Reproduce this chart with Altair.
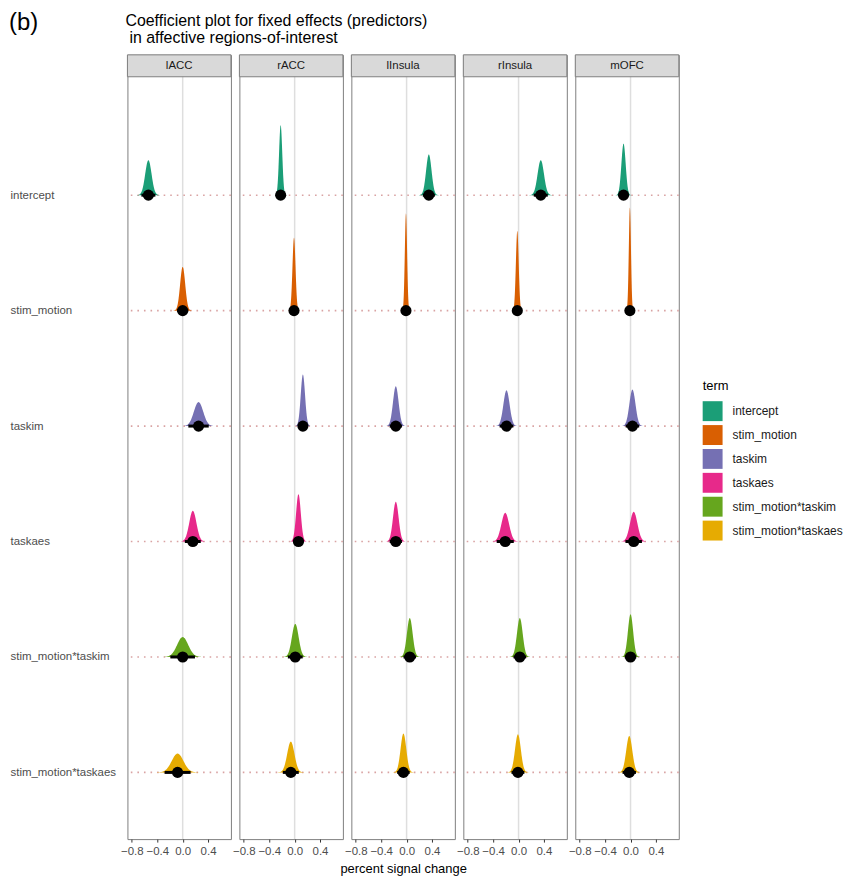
import altair as alt
import pandas as pd

# ---------------- data ----------------
rois = ["lACC", "rACC", "lInsula", "rInsula", "mOFC"]
terms = ["intercept", "stim_motion", "taskim", "taskaes",
         "stim_motion*taskim", "stim_motion*taskaes"]
term_colors = ["#1b9e77", "#d95f02", "#7570b3", "#e7298a", "#66a61e", "#e6ab02"]

# posterior means (one value per ROI: lACC, rACC, lInsula, rInsula, mOFC)
mean_intercept = [-0.54, -0.22, 0.35, 0.35, -0.11]
mean_stim_motion = [0.00, -0.01, -0.01, -0.02, -0.01]
mean_taskim = [0.25, 0.13, -0.17, -0.19, 0.03]
mean_taskaes = [0.16, 0.06, -0.17, -0.21, 0.05]
mean_sm_taskim = [0.00, 0.01, 0.05, 0.02, 0.00]
mean_sm_taskaes = [-0.08, -0.06, -0.05, -0.01, -0.02]

# posterior standard deviations
sd_intercept = [0.050, 0.025, 0.043, 0.050, 0.034]
sd_stim_motion = [0.040, 0.024, 0.018, 0.022, 0.017]
sd_taskim = [0.073, 0.034, 0.044, 0.049, 0.048]
sd_taskaes = [0.057, 0.037, 0.044, 0.061, 0.059]
sd_sm_taskim = [0.088, 0.053, 0.045, 0.045, 0.041]
sd_sm_taskaes = [0.093, 0.057, 0.045, 0.046, 0.048]

x_ticks = [-0.8, -0.4, 0.0, 0.4]
panel_tag = "(b)"
title_line1 = "Coefficient plot for fixed effects (predictors)"
title_line2 = " in affective regions-of-interest"
x_title = "percent signal change"
legend_title = "term"

means = [mean_intercept, mean_stim_motion, mean_taskim, mean_taskaes,
         mean_sm_taskim, mean_sm_taskaes]
sds = [sd_intercept, sd_stim_motion, sd_taskim, sd_taskaes,
       sd_sm_taskim, sd_sm_taskaes]

rows = []
for ti, term in enumerate(terms):
    for ri, roi in enumerate(rois):
        rows.append({"roi": roi, "term": term, "v": len(terms) - ti,
                     "mean": means[ti][ri], "sd": sds[ti][ri]})
df = pd.DataFrame(rows)

# ---------------- styling / layout ----------------
FONT = "Liberation Sans"
W, H = 104, 788
STRIP = 22
DENS_SCALE = 0.038
CI_MULT = 2.2

xscale = alt.Scale(domain=[-0.87, 0.76], nice=False, zero=False)
yscale = alt.Scale(domain=[0.4224, 7.2155], nice=False, zero=False)
cscale = alt.Scale(domain=terms, range=term_colors)

label_expr = ""
for ti, term in enumerate(terms):
    label_expr += f"datum.value == {len(terms) - ti} ? '{term}' : "
label_expr += "''"


def panel(i, roi):
    d = df[df["roi"] == roi]
    if i == 0:
        yaxis = alt.Axis(values=[1, 2, 3, 4, 5, 6], labelExpr=label_expr,
                         labelAlign="left", labelPadding=118, ticks=False,
                         tickSize=0, domain=False, grid=False,
                         labelFontSize=11.5, labelColor="#4d4d4d", title=None)
    else:
        yaxis = None
    xaxis = alt.Axis(values=x_ticks, format=".1f", grid=False, domain=False,
                     tickSize=3, tickColor="#333333", labelFontSize=11.5,
                     labelColor="#4d4d4d", labelPadding=3, labelOverlap=False,
                     labelFlush=False, labelSeparation=0,
                     title=x_title if i == 2 else None, titleFontSize=13,
                     titleFontWeight="normal", titleColor="black",
                     titlePadding=6)

    zero = alt.Chart(pd.DataFrame({"z": [0.0]})).mark_rule(
        color="#dedede", strokeWidth=1.5
    ).encode(x=alt.X("z:Q", scale=xscale, axis=xaxis))

    dotted = alt.Chart(d).mark_rule(
        color="#d9a3a3", strokeWidth=1.6, strokeDash=[1.6, 5]
    ).encode(y=alt.Y("v:Q", scale=yscale, axis=yaxis))

    dens = alt.Chart(d).transform_calculate(
        z="sequence(-3.6, 3.61, 0.08)"
    ).transform_flatten(["z"]).transform_calculate(
        x="datum.mean + datum.z * datum.sd",
        dens=f"datum.v + {DENS_SCALE} * densityNormal(datum.mean + datum.z * datum.sd, datum.mean, datum.sd)",
    ).mark_area(interpolate="monotone", opacity=1).encode(
        x=alt.X("x:Q", scale=xscale, axis=xaxis),
        y=alt.Y("dens:Q", scale=yscale, axis=yaxis),
        y2="v:Q",
        color=alt.Color("term:N", scale=cscale, title=legend_title),
        detail="term:N",
    )

    interval = alt.Chart(d).transform_calculate(
        lo=f"datum.mean - {CI_MULT} * datum.sd",
        hi=f"datum.mean + {CI_MULT} * datum.sd",
    ).mark_rule(color="black", strokeWidth=3).encode(
        x=alt.X("lo:Q", scale=xscale, axis=xaxis), x2="hi:Q",
        y=alt.Y("v:Q", scale=yscale, axis=yaxis),
    )

    pts = alt.Chart(d).mark_circle(size=125, color="black", opacity=1).encode(
        x=alt.X("mean:Q", scale=xscale, axis=xaxis),
        y=alt.Y("v:Q", scale=yscale, axis=yaxis),
    )

    strip_df = pd.DataFrame({"roi": [roi]})
    strip = alt.Chart(strip_df).mark_rect(
        fill="#d9d9d9", stroke="#7f7f7f", strokeWidth=1
    ).encode(x=alt.value(0), x2=alt.value(W), y=alt.value(0), y2=alt.value(STRIP))
    strip_txt = alt.Chart(strip_df).mark_text(
        fontSize=11.5, color="#1a1a1a", font=FONT, baseline="middle"
    ).encode(x=alt.value(W / 2), y=alt.value(STRIP / 2 + 0.5), text="roi:N")

    return alt.layer(zero, dotted, dens, interval, pts, strip, strip_txt).properties(
        width=W, height=H
    )


panels = alt.hconcat(*[panel(i, r) for i, r in enumerate(rois)],
                     spacing=8.5, bounds="flush")

tag = alt.Chart(pd.DataFrame({"t": [panel_tag]})).mark_text(
    fontSize=24, font=FONT, align="left", baseline="alphabetic", color="black"
).encode(x=alt.value(-119), y=alt.value(19), text="t:N")
t1 = alt.Chart(pd.DataFrame({"t": [title_line1]})).mark_text(
    fontSize=16, font=FONT, align="left", baseline="alphabetic", color="black"
).encode(x=alt.value(-2), y=alt.value(15), text="t:N")
t2 = alt.Chart(pd.DataFrame({"t": [title_line2]})).mark_text(
    fontSize=16, font=FONT, align="left", baseline="alphabetic", color="black"
).encode(x=alt.value(2), y=alt.value(32), text="t:N")
header = alt.layer(tag, t1, t2).properties(
    width=500, height=37, view=alt.ViewBackground(stroke="transparent")
)

chart = alt.vconcat(header, panels, spacing=4).properties(
    padding={"left": 0, "top": 0, "right": 0, "bottom": 0}
).configure(font=FONT).configure_view(
    stroke="#7f7f7f", strokeWidth=1
).configure_axis(
    labelOverlap=False
).configure_legend(
    orient="none", legendX=578, legendY=371, symbolType="square",
    symbolSize=400, symbolStrokeWidth=0, labelFontSize=12,
    labelColor="#1a1a1a", titleFontSize=13, titleFontWeight="normal",
    titleColor="black", rowPadding=4, titlePadding=8, labelOffset=10,
    padding=0,
)

chart.save("out.html", embed_options={"renderer": "svg", "actions": False})
